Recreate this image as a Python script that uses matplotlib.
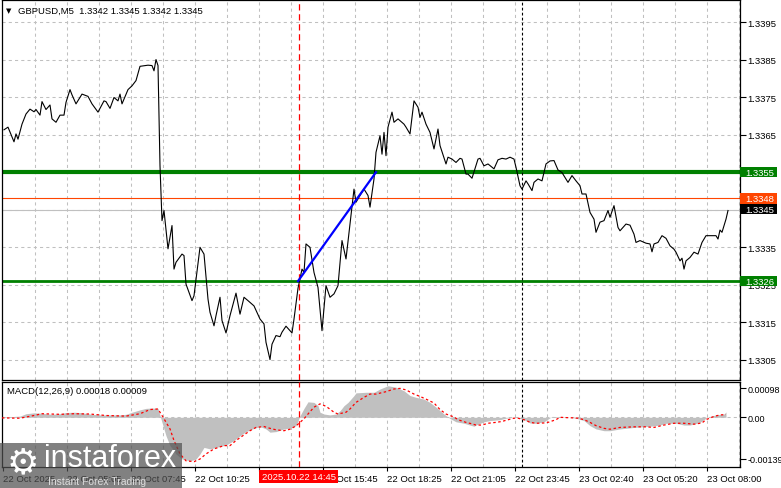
import matplotlib.pyplot as plt
import matplotlib.transforms as mtransforms
from matplotlib.patches import Rectangle

plt.rcParams['font.family'] = ['Liberation Sans', 'DejaVu Sans']

# price samples (x = bar index, M5 bars)
price_idx = [1, 3, 6, 7, 8, 10, 12, 14, 16, 17,
             19, 20, 22, 24, 25, 27, 29, 31, 32, 34,
             35, 37, 40, 43, 45, 48, 51, 52, 54, 56,
             58, 59, 60, 63, 65, 67, 69, 73, 75, 76,
             77, 78, 79, 80, 81, 83, 85, 86, 87, 90,
             91, 92, 95, 96, 99, 101, 103, 104, 106, 107,
             109, 110, 112, 114, 117, 119, 121, 123, 126, 129,
             131, 132, 134, 135, 137, 139, 140, 142, 145, 146,
             148, 150, 151, 152, 154, 156, 158, 160, 162, 164,
             166, 168, 170, 172, 174, 176, 177, 179, 181, 183,
             184, 186, 187, 189, 190, 191, 192, 193, 195, 196,
             198, 201, 202, 204, 206, 208, 209, 210, 212, 214,
             216, 218, 219, 222, 223, 225, 227, 229, 230, 232,
             233, 235, 238, 239, 241, 243, 246, 248, 250, 252,
             254, 256, 257, 259, 260, 262, 263, 265, 266, 268,
             270, 272, 274, 276, 278, 280, 283, 285, 287, 289,
             290, 292, 294, 296, 297, 299, 301, 303, 304, 306,
             308, 309, 312, 314, 316, 317, 319, 322, 324, 325,
             326, 328, 330, 332, 334, 336, 337, 339, 340, 341,
             342, 344, 346, 348, 350, 352, 357, 358, 359, 360,
             362, 363]
price_val = [1.33663, 1.33670, 1.33631, 1.33652, 1.33638, 1.33678, 1.33705, 1.33718, 1.33711, 1.33717,
             1.33702, 1.33738, 1.33717, 1.33729, 1.33692, 1.33683, 1.33702, 1.33702, 1.33736, 1.33770,
             1.33756, 1.33732, 1.33758, 1.33752, 1.33732, 1.33710, 1.33740, 1.33738, 1.33720, 1.33749,
             1.33740, 1.33758, 1.33732, 1.33770, 1.33780, 1.33794, 1.33832, 1.33835, 1.33834, 1.33820,
             1.33850, 1.33834, 1.33567, 1.33421, 1.33448, 1.33346, 1.33408, 1.33292, 1.33310, 1.33332,
             1.33328, 1.33252, 1.33208, 1.33221, 1.33350, 1.33332, 1.33212, 1.33177, 1.33141, 1.33168,
             1.33217, 1.33155, 1.33122, 1.33168, 1.33228, 1.33172, 1.33217, 1.33208, 1.33194, 1.33159,
             1.33146, 1.33097, 1.33051, 1.33092, 1.33115, 1.33112, 1.33124, 1.33140, 1.33122, 1.33159,
             1.33241, 1.33292, 1.33283, 1.33359, 1.33350, 1.33283, 1.33243, 1.33128, 1.33248, 1.33217,
             1.33226, 1.33248, 1.33368, 1.33319, 1.33412, 1.33505, 1.33470, 1.33488, 1.33505, 1.33488,
             1.33457, 1.33532, 1.33603, 1.33647, 1.33598, 1.33656, 1.33594, 1.33670, 1.33710, 1.33683,
             1.33692, 1.33678, 1.33670, 1.33652, 1.33740, 1.33723, 1.33696, 1.33710, 1.33678, 1.33656,
             1.33612, 1.33665, 1.33621, 1.33572, 1.33590, 1.33585, 1.33576, 1.33587, 1.33585, 1.33545,
             1.33545, 1.33534, 1.33585, 1.33587, 1.33567, 1.33572, 1.33559, 1.33583, 1.33587, 1.33585,
             1.33590, 1.33585, 1.33563, 1.33514, 1.33505, 1.33527, 1.33519, 1.33501, 1.33523, 1.33532,
             1.33527, 1.33572, 1.33580, 1.33581, 1.33556, 1.33549, 1.33523, 1.33541, 1.33527, 1.33514,
             1.33492, 1.33492, 1.33443, 1.33425, 1.33390, 1.33417, 1.33421, 1.33448, 1.33430, 1.33461,
             1.33403, 1.33394, 1.33412, 1.33409, 1.33385, 1.33363, 1.33368, 1.33361, 1.33359, 1.33338,
             1.33359, 1.33363, 1.33381, 1.33374, 1.33354, 1.33345, 1.33337, 1.33314, 1.33321, 1.33292,
             1.33314, 1.33323, 1.33337, 1.33332, 1.33363, 1.33381, 1.33381, 1.33372, 1.33396, 1.33390,
             1.33425, 1.33448]

# MACD(12,26,9) histogram and signal line
hist_idx = [0, 4, 9, 12, 16, 19, 22, 25, 29, 32, 36, 39, 42, 45, 49, 54, 59, 62, 65, 69,
            72, 75, 78, 80, 82, 84, 86, 87, 90, 94, 97, 99, 101, 104, 107, 112, 116, 119, 122, 126,
            129, 132, 134, 137, 141, 144, 147, 149, 151, 153, 156, 158, 159, 161, 164, 167, 169, 171, 173, 176,
            177, 182, 186, 189, 193, 197, 201, 204, 207, 211, 214, 217, 221, 224, 227, 231, 234, 236, 237, 241,
            244, 249, 252, 256, 257, 261, 264, 267, 271, 273, 275, 279, 284, 287, 291, 294, 297, 299, 301, 304,
            309, 316, 324, 329, 332, 337, 341, 344, 349, 352, 354, 357, 361, 362]
hist_val = [0.00003, 0.00002, 0.00004, 0.00012, 0.00015, 0.00014, 0.00012, 0.00010, 0.00012, 0.00016,
            0.00017, 0.00016, 0.00013, 0.00010, 0.00008, 0.00008, 0.00008, 0.00010, 0.00017, 0.00025,
            0.00030, 0.00031, 0.00030, -0.00017, -0.00062, -0.00095, -0.00112, -0.00123, -0.00140, -0.00146,
            -0.00140, -0.00123, -0.00101, -0.00106, -0.00101, -0.00093, -0.00078, -0.00062, -0.00048, -0.00037,
            -0.00031, -0.00039, -0.00050, -0.00048, -0.00039, -0.00037, -0.00028, 0.00005, 0.00030, 0.00052,
            0.00050, 0.00039, 0.00017, 0.00011, 0.00008, 0.00011, 0.00022, 0.00039, 0.00050, 0.00073,
            0.00082, 0.00084, 0.00084, 0.00095, 0.00106, 0.00101, 0.00089, 0.00073, 0.00067, 0.00061,
            0.00050, 0.00034, 0.00011, -0.00004, -0.00015, -0.00020, -0.00026, -0.00030, -0.00026, -0.00015,
            -0.00011, -0.00008, -0.00003, 0.0, 0.0, -0.00008, -0.00019, -0.00020, -0.00015, -0.00006,
            0.00003, 0.00002, 0.0, -0.00003, -0.00011, -0.00028, -0.00039, -0.00042, -0.00045, -0.00045,
            -0.00039, -0.00034, -0.00030, -0.00026, -0.00020, -0.00020, -0.00026, -0.00026, -0.00017, -0.00003,
            0.00003, 0.00008, 0.00011, 0.00018]
sig_idx = [0, 9, 16, 20, 29, 36, 44, 52, 62, 69, 74, 78, 81, 84, 86, 89, 92, 96, 99, 102,
           106, 111, 114, 117, 121, 124, 127, 131, 134, 137, 141, 144, 147, 151, 153, 156, 159, 162, 166, 168,
           172, 174, 177, 181, 184, 187, 192, 196, 199, 202, 206, 209, 212, 216, 219, 222, 226, 228, 232, 235,
           237, 240, 243, 247, 250, 252, 256, 258, 262, 264, 267, 271, 273, 277, 279, 282, 286, 288, 291, 294,
           297, 301, 304, 309, 316, 322, 326, 331, 336, 341, 346, 350, 352, 356, 359, 362]
sig_val = [-0.00002, -0.00003, 0.00006, 0.00012, 0.00010, 0.00012, 0.00011, 0.00006, 0.00004, 0.00012,
           0.00026, 0.00028, -0.00005, -0.00039, -0.00078, -0.00123, -0.00146, -0.00149, -0.00140, -0.00123,
           -0.00106, -0.00095, -0.00095, -0.00078, -0.00059, -0.00045, -0.00034, -0.00031, -0.00037, -0.00042,
           -0.00045, -0.00040, -0.00029, -0.00005, 0.00011, 0.00034, 0.00045, 0.00037, 0.00017, 0.00011,
           0.00017, 0.00028, 0.00050, 0.00067, 0.00078, 0.00078, 0.00086, 0.00095, 0.00097, 0.00092,
           0.00078, 0.00070, 0.00061, 0.00048, 0.00026, 0.00011, 0.00001, -0.00008, -0.00017, -0.00022,
           -0.00026, -0.00026, -0.00020, -0.00017, -0.00014, -0.00010, -0.00003, -0.00003, -0.00010, -0.00017,
           -0.00020, -0.00019, -0.00017, -0.00008, 0.00000, -0.00001, -0.00002, -0.00003, -0.00008, -0.00017,
           -0.00028, -0.00037, -0.00040, -0.00034, -0.00032, -0.00032, -0.00034, -0.00026, -0.00020, -0.00020,
           -0.00023, -0.00019, -0.00008, 0.00003, 0.00008, 0.00009]

resistance = 1.3355
support = 1.3326
ask_price = 1.3348
bid_price = 1.3345
trend_idx = [148, 187]
trend_val = [1.3326, 1.3355]
entry_bar = 148.5
day_bar = 260

price_ticks = [1.3305, 1.3315, 1.3325, 1.3335, 1.3345, 1.3355, 1.3365, 1.3375, 1.3385, 1.3395]
hidden_ticks = [1.3345, 1.3355]   # covered by the coloured tags
macd_ticks = [0.00098, 0.0, -0.00139]
macd_tick_labels = ['0.00098', '0.00', '-0.00139']
time_idx = [0, 32, 64, 96, 128, 160, 192, 224, 256, 288, 320, 352]
time_labels = ['22 Oct 2025', '22 Oct 05:05', '22 Oct 07:45', '22 Oct 10:25', '22 Oct 13:05',
               '22 Oct 15:45', '22 Oct 18:25', '22 Oct 21:05', '22 Oct 23:45', '23 Oct 02:40',
               '23 Oct 05:20', '23 Oct 08:00']

W, H = 781, 489
FS = 6.8
GREEN = '#008000'
GRID = '#c0c0c0'

fig = plt.figure(figsize=(W / 100, H / 100), dpi=100)
ax = fig.add_axes([2 / W, 1 - 380.5 / H, 738 / W, 379.5 / H])
ax2 = fig.add_axes([2 / W, 1 - 468.3 / H, 738 / W, 85.6 / H])

for a in (ax, ax2):
    a.set_xlim(0, 369)
    for k in range(1, 24):
        a.axvline(16 * k + 0.5, color=GRID, ls=(0, (3, 3)), lw=0.75, zorder=0)
    for s in a.spines.values():
        s.set_linewidth(0.9)
    a.axvline(entry_bar, color='red', ls=(0, (5, 3)), lw=0.9, zorder=4)
    a.axvline(day_bar, color='black', ls=(0, (2.5, 2)), lw=0.8, zorder=4)

# main price panel
ax.set_ylim(1.32998, 1.340086)
for y in price_ticks:
    ax.axhline(y, color=GRID, ls=(0, (3, 3)), lw=0.75, zorder=0)
ax.axhline(bid_price, color=GRID, lw=0.8, zorder=1)
ax.axhline(ask_price, color='#ff4500', lw=0.8, zorder=1)
ax.axhline(resistance, color=GREEN, lw=3.0, zorder=2)
ax.axhline(support, color=GREEN, lw=2.0, zorder=2)
ax.plot(price_idx, price_val, color='black', lw=0.8, zorder=3)
ax.plot(trend_idx, trend_val, color='#0000ff', lw=1.6, zorder=5)

ax.yaxis.tick_right()
ax.set_yticks(price_ticks)
ax.set_yticklabels(['' if v in hidden_ticks else f'{v:.4f}' for v in price_ticks])
ax.tick_params(axis='y', direction='out', length=4, width=0.8, pad=1.5, labelsize=FS)
ax.tick_params(axis='x', bottom=False, labelbottom=False)

# coloured price tags on the right axis
blend = mtransforms.blended_transform_factory(ax.transAxes, ax.transData)
tag_h = 10.5 / 37.55 * 0.001
tag_w = 37 / 738


def price_tag(y, text, fc):
    ax.add_patch(Rectangle((1.0, y - tag_h / 2), tag_w, tag_h, transform=blend,
                           facecolor=fc, edgecolor='none', clip_on=False, zorder=6))
    ax.text(1.0 + 5 / 738, y, text, transform=blend, color='white', fontsize=FS,
            va='center', ha='left', clip_on=False, zorder=7)


price_tag(resistance, f'{resistance:.4f}', GREEN)
price_tag(support, f'{support:.4f}', GREEN)
price_tag(ask_price, f'{ask_price:.4f}', '#ff4500')
price_tag(ask_price - tag_h, f'{bid_price:.4f}', 'black')

# MACD panel
ax2.set_ylim(-0.001678, 0.001195)
ax2.axhline(0, color=GRID, ls=(0, (3, 3)), lw=0.75, zorder=0)
ax2.fill_between(hist_idx, 0, hist_val, color='#c0c0c0', lw=0, zorder=1)
ax2.plot(sig_idx, sig_val, color='red', ls=(0, (2, 2)), lw=0.9, zorder=3)
ax2.yaxis.tick_right()
ax2.set_yticks(macd_ticks)
ax2.set_yticklabels(macd_tick_labels)
ax2.tick_params(axis='y', direction='out', length=4, width=0.8, pad=1.5, labelsize=6.5)
ax2.set_xticks([i + 0.5 for i in time_idx])
ax2.set_xticklabels(time_labels)
ax2.tick_params(axis='x', direction='out', length=3, width=0.8, pad=2, labelsize=FS)
for lbl in ax2.get_xticklabels():
    lbl.set_horizontalalignment('left')

# header texts
fig.text(6 / W, 1 - 11 / H, '▼', fontsize=5, va='center', family='DejaVu Sans')
fig.text(18 / W, 1 - 11 / H, 'GBPUSD,M5  1.3342 1.3345 1.3342 1.3345', fontsize=6.8, va='center')
fig.text(7 / W, 1 - 392 / H, 'MACD(12,26,9) 0.00018 0.00009', fontsize=FS, va='center')

# highlighted time of the vertical line
fig.text(298.5 / W, 1 - 477.5 / H, '2025.10.22 14:45', fontsize=FS, color='white',
         ha='center', va='center', zorder=6,
         bbox=dict(boxstyle='square,pad=0.25', facecolor='red', edgecolor='none'))

# watermark
fig.add_artist(Rectangle((0, 0), 182 / W, 45 / H, transform=fig.transFigure,
                         facecolor='#505050', edgecolor='none', alpha=0.72, zorder=8))
fig.text(23 / W, 1 - 463 / H, '⚙', fontsize=26, color='white', family='DejaVu Sans',
         ha='center', va='center', zorder=9)
fig.text(44 / W, 1 - 459 / H, 'instaforex', fontsize=22, color='white', va='center', zorder=9)
fig.text(48 / W, 1 - 482 / H, 'Instant Forex Trading', fontsize=7.5, color='#dddddd',
         va='center', zorder=9)

fig.savefig('out.png', dpi=100)
